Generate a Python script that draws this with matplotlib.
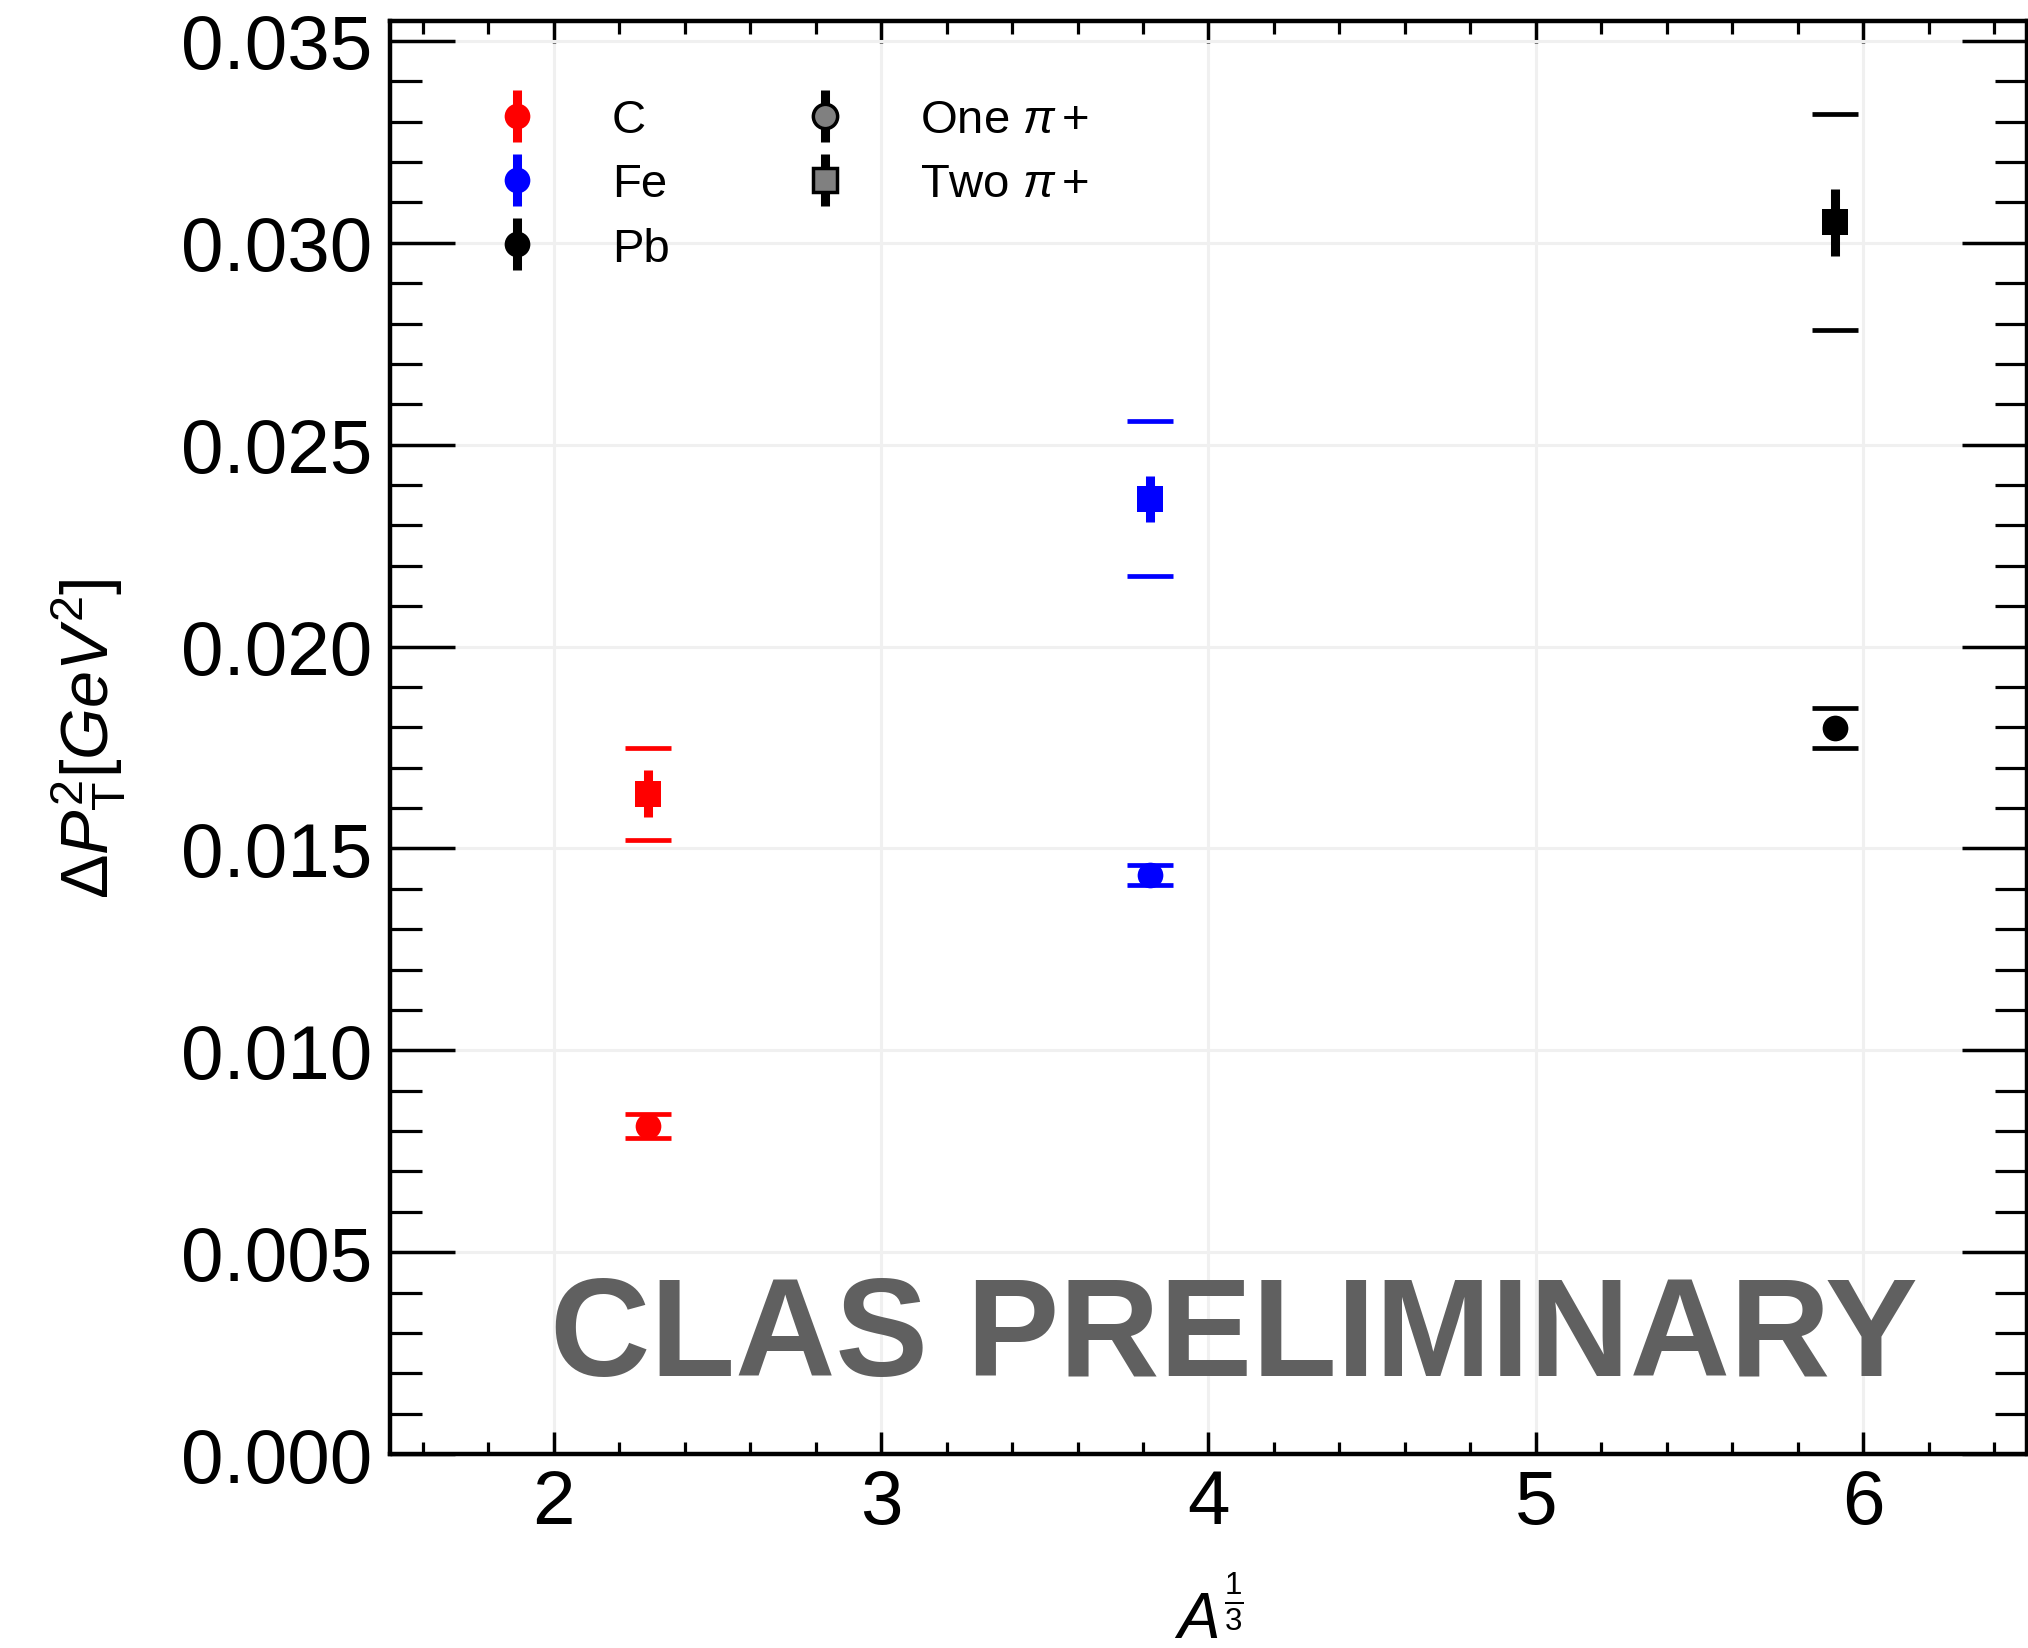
import numpy as np
import matplotlib
matplotlib.use("Agg")
import matplotlib.pyplot as plt
from matplotlib.ticker import MultipleLocator, FormatStrFormatter
from matplotlib.container import ErrorbarContainer
from matplotlib.legend_handler import HandlerErrorbar

plt.rcParams['font.family'] = ['Liberation Sans', 'DejaVu Sans']
plt.rcParams['mathtext.fontset'] = 'custom'
plt.rcParams['mathtext.rm'] = 'Liberation Sans'
plt.rcParams['mathtext.it'] = 'Liberation Sans:italic'
plt.rcParams['mathtext.bf'] = 'Liberation Sans:bold'

#%% Data
nuclei = ["C", "Fe", "Pb"]
colors = ["red", "blue", "black"]
a13 = [2.288, 3.821, 5.915]

one_pi = [0.00813, 0.01434, 0.01799]
one_pi_stat = [0.00012, 0.00012, 0.00012]
one_pi_sys = [0.00030, 0.000245, 0.00050]

two_pi = [0.01636, 0.02366, 0.03051]
two_pi_stat = [0.00059, 0.00057, 0.00083]
two_pi_sys = [0.00114, 0.00192, 0.00267]

#%% Plotting
fig = plt.figure(figsize=(20.28, 16.49), dpi=100)
ax = fig.add_axes([0.1923, 0.1176, 0.8072, 0.8692])

ms = 18.5
for i in range(len(nuclei)):
    c = colors[i]
    for y, st, sy, mk in [(one_pi, one_pi_stat, one_pi_sys, "o"),
                          (two_pi, two_pi_stat, two_pi_sys, "s")]:
        eb = ax.errorbar(a13[i], y[i], yerr=sy[i], fmt="none", ecolor=c,
                         capsize=16.6, capthick=3.4, elinewidth=1, zorder=3)
        eb[2][0].set_visible(False)
        ax.errorbar(a13[i], y[i], yerr=st[i], fmt=mk, color=c, ms=ms,
                    mew=0, elinewidth=6.5, capsize=0, zorder=4)

# legend proxies
handles = []
for i in range(len(nuclei)):
    h = ax.errorbar([np.nan], [np.nan], yerr=[1], fmt="o", color=colors[i],
                    ms=ms, mew=0, elinewidth=6.5, capsize=0, label=nuclei[i])
    handles.append(h)
h1 = ax.errorbar([np.nan], [np.nan], yerr=[1], fmt="o", color="black",
                 mfc="#808080", mec="black", mew=2.5, ms=ms - 1, elinewidth=6.5,
                 capsize=0, label=r"One $\pi +$")
h2 = ax.errorbar([np.nan], [np.nan], yerr=[1], fmt="s", color="black",
                 mfc="#808080", mec="black", mew=2.5, ms=ms - 1, elinewidth=6.5,
                 capsize=0, label=r"Two $\pi +$")
handles += [h1, h2]

ax.legend(handles=handles, ncol=2, frameon=False, fontsize=34,
          loc="upper left", bbox_to_anchor=(0.0632, 0.946),
          borderpad=0, borderaxespad=0, handlelength=1.0, handletextpad=1.51,
          columnspacing=2.79, labelspacing=0.43,
          handler_map={ErrorbarContainer: HandlerErrorbar(yerr_size=0.55)})

ax.text(1.989, 0.00196, "CLAS PRELIMINARY", fontsize=100, fontweight="bold",
        color="#606060", ha="left", va="baseline", zorder=2)

ax.set_xlim(1.5, 6.5)
ax.set_ylim(0, 0.0355)
ax.xaxis.set_major_locator(MultipleLocator(1))
ax.xaxis.set_minor_locator(MultipleLocator(0.2))
ax.yaxis.set_major_locator(MultipleLocator(0.005))
ax.yaxis.set_minor_locator(MultipleLocator(0.001))
ax.yaxis.set_major_formatter(FormatStrFormatter("%.3f"))

ax.grid(True, which="major", color="#f0f0f0", linewidth=2.2)
ax.set_axisbelow(True)

ax.tick_params(which="both", direction="in", top=True, right=True,
               labelsize=55, colors="black")
ax.tick_params(axis="y", which="major", length=47, width=2.5, pad=13)
ax.tick_params(axis="y", which="minor", length=23, width=2.3)
ax.tick_params(axis="x", which="major", length=16, width=2.5, pad=10)
ax.tick_params(axis="x", which="minor", length=9, width=2.3)
for s in ax.spines.values():
    s.set_linewidth(3.2)

ax.set_ylabel(r"$\Delta P_{\mathrm{T}}^{2}[GeV^{2}]$", fontsize=48, labelpad=38)
ax.set_xlabel(r"$A^{\frac{1}{3}}$", fontsize=46, labelpad=30)

fig.savefig("out.png", dpi=100)
